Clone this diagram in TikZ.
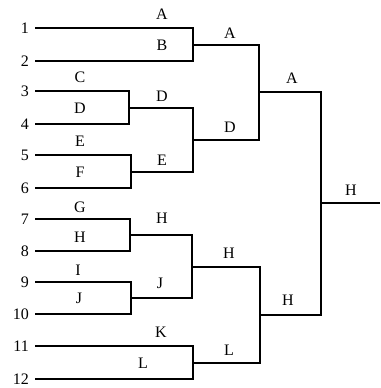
\documentclass[tikz,border=0pt]{standalone}
\usepackage{fontspec}
\setmainfont{Liberation Serif}
\begin{document}
\begin{tikzpicture}[x=1pt,y=-1pt,
  br/.style={line width=2pt, line join=miter},
  lab/.style={font=\fontsize{16}{19}\selectfont, inner sep=0pt},
  num/.style={lab, anchor=east}]
\useasboundingbox (0,0) rectangle (380,388);
% leaves
\foreach \i/\y in {1/28,2/61,3/91,4/124,5/155,6/188,7/219,8/251,9/282,10/314,11/346,12/379}{
  \coordinate (l\i) at (35,\y);
  \node[num] (n\i) at (29,\y) {\i};
}
% match points
\coordinate (m1) at (193,44.5);
\coordinate (m2) at (129,107.5);
\coordinate (m3) at (131,171.5);
\coordinate (m4) at (130,235);
\coordinate (m5) at (131,298);
\coordinate (m6) at (193,362.5);
\coordinate (s1) at (193,139.5);
\coordinate (s2) at (192,266.5);
\coordinate (q1) at (259,92);
\coordinate (q2) at (260,314.5);
\coordinate (f) at (321,203.25);
\coordinate (e) at (380,203.25);
% brackets
\draw[br] (l1) -| (m1) |- (l2);
\draw[br] (l3) -| (m2) |- (l4);
\draw[br] (l5) -| (m3) |- (l6);
\draw[br] (l7) -| (m4) |- (l8);
\draw[br] (l9) -| (m5) |- (l10);
\draw[br] (l11) -| (m6) |- (l12);
\draw[br] (m2) -| (s1) |- (m3);
\draw[br] (m4) -| (s2) |- (m5);
\draw[br] (m1) -| (q1) |- (s1);
\draw[br] (s2) -| (q2) |- (m6);
\draw[br] (q1) -| (f) |- (q2);
\draw[br] (f) -- (e);
% first-round labels
\node[lab] (tA) at (162,14) {A};
\node[lab] (tB) at (162,45) {B};
\node[lab] (tC) at (80,77) {C};
\node[lab] (tD) at (80,108) {D};
\node[lab] (tE) at (80,141) {E};
\node[lab] (tF) at (80,172) {F};
\node[lab] (tG) at (80,207) {G};
\node[lab] (tH) at (80,237) {H};
\node[lab] (tI) at (78,270) {I};
\node[lab] (tJ) at (79,298) {J};
\node[lab] (tK) at (161,332) {K};
\node[lab] (tL) at (143,363) {L};
% second-round labels
\node[lab] (uD) at (162,96) {D};
\node[lab] (uE) at (162,160) {E};
\node[lab] (uH) at (162,218) {H};
\node[lab] (uJ) at (160,283) {J};
% third-round labels
\node[lab] (vA) at (230,33) {A};
\node[lab] (vD) at (230,127) {D};
\node[lab] (vH) at (229,253) {H};
\node[lab] (vL) at (229,350) {L};
% semifinal labels
\node[lab] (wA) at (292,78) {A};
\node[lab] (wH) at (288,300) {H};
% final
\node[lab] (zH) at (351,190) {H};
\end{tikzpicture}
\end{document}
